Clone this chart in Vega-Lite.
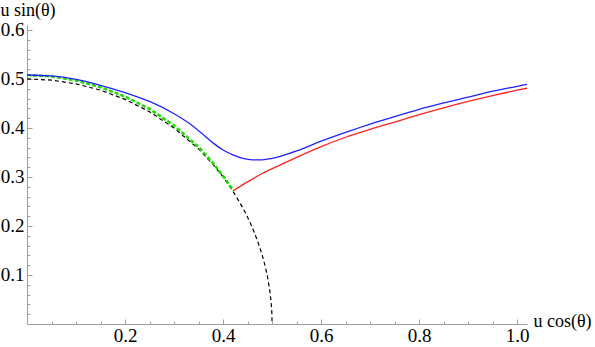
{
  "$schema": "https://vega.github.io/schema/vega-lite/v6.json",
  "width": 500,
  "height": 299,
  "autosize": {"type": "none"},
  "padding": {"left": 27, "top": 25, "right": 68, "bottom": 23},
  "background": "white",
  "config": {
    "view": {"stroke": null},
    "axis": {
      "labelFont": "Liberation Serif",
      "labelFontSize": 19,
      "labelColor": "black",
      "titleFont": "Liberation Serif",
      "titleFontSize": 18,
      "titleFontWeight": "normal",
      "titleColor": "black",
      "domainColor": "#a0a0a0",
      "tickColor": "#a0a0a0",
      "grid": false,
      "labelFlush": false,
      "labelOverlap": false
    }
  },
  "data": {
    "values": [
      {"s": "circle", "x": 0.0, "y": 0.5},
      {"s": "circle", "x": 0.05, "y": 0.4975},
      {"s": "circle", "x": 0.1, "y": 0.4899},
      {"s": "circle", "x": 0.15, "y": 0.477},
      {"s": "circle", "x": 0.2, "y": 0.4583},
      {"s": "circle", "x": 0.25, "y": 0.433},
      {"s": "circle", "x": 0.3, "y": 0.4},
      {"s": "circle", "x": 0.35, "y": 0.3571},
      {"s": "circle", "x": 0.38, "y": 0.325},
      {"s": "circle", "x": 0.4, "y": 0.3},
      {"s": "circle", "x": 0.42, "y": 0.2713},
      {"s": "circle", "x": 0.44, "y": 0.2375},
      {"s": "circle", "x": 0.45, "y": 0.2179},
      {"s": "circle", "x": 0.46, "y": 0.196},
      {"s": "circle", "x": 0.47, "y": 0.1706},
      {"s": "circle", "x": 0.48, "y": 0.14},
      {"s": "circle", "x": 0.485, "y": 0.1216},
      {"s": "circle", "x": 0.49, "y": 0.0995},
      {"s": "circle", "x": 0.495, "y": 0.0705},
      {"s": "circle", "x": 0.498, "y": 0.0447},
      {"s": "circle", "x": 0.4995, "y": 0.0224},
      {"s": "circle", "x": 0.5, "y": 0.0},
      {"s": "green", "x": 0.0, "y": 0.508},
      {"s": "green", "x": 0.05, "y": 0.505},
      {"s": "green", "x": 0.1, "y": 0.497},
      {"s": "green", "x": 0.15, "y": 0.483},
      {"s": "green", "x": 0.2, "y": 0.464},
      {"s": "green", "x": 0.25, "y": 0.439},
      {"s": "green", "x": 0.3, "y": 0.405},
      {"s": "green", "x": 0.35, "y": 0.361},
      {"s": "green", "x": 0.38, "y": 0.328},
      {"s": "green", "x": 0.4, "y": 0.302},
      {"s": "green", "x": 0.421, "y": 0.272},
      {"s": "blue", "x": 0.0, "y": 0.508},
      {"s": "blue", "x": 0.05, "y": 0.506},
      {"s": "blue", "x": 0.1, "y": 0.499},
      {"s": "blue", "x": 0.15, "y": 0.487},
      {"s": "blue", "x": 0.2, "y": 0.472},
      {"s": "blue", "x": 0.25, "y": 0.454},
      {"s": "blue", "x": 0.3, "y": 0.429},
      {"s": "blue", "x": 0.33, "y": 0.41},
      {"s": "blue", "x": 0.36, "y": 0.386},
      {"s": "blue", "x": 0.38, "y": 0.369},
      {"s": "blue", "x": 0.4, "y": 0.355},
      {"s": "blue", "x": 0.42, "y": 0.345},
      {"s": "blue", "x": 0.44, "y": 0.338},
      {"s": "blue", "x": 0.46, "y": 0.335},
      {"s": "blue", "x": 0.48, "y": 0.335},
      {"s": "blue", "x": 0.5, "y": 0.338},
      {"s": "blue", "x": 0.52, "y": 0.343},
      {"s": "blue", "x": 0.55, "y": 0.353},
      {"s": "blue", "x": 0.6, "y": 0.373},
      {"s": "blue", "x": 0.65, "y": 0.391},
      {"s": "blue", "x": 0.7, "y": 0.408},
      {"s": "blue", "x": 0.75, "y": 0.423},
      {"s": "blue", "x": 0.8, "y": 0.438},
      {"s": "blue", "x": 0.85, "y": 0.451},
      {"s": "blue", "x": 0.9, "y": 0.463},
      {"s": "blue", "x": 0.95, "y": 0.475},
      {"s": "blue", "x": 1.0, "y": 0.485},
      {"s": "blue", "x": 1.02, "y": 0.489},
      {"s": "red", "x": 0.421, "y": 0.272},
      {"s": "red", "x": 0.45, "y": 0.29},
      {"s": "red", "x": 0.48, "y": 0.307},
      {"s": "red", "x": 0.52, "y": 0.326},
      {"s": "red", "x": 0.55, "y": 0.34},
      {"s": "red", "x": 0.6, "y": 0.362},
      {"s": "red", "x": 0.65, "y": 0.381},
      {"s": "red", "x": 0.7, "y": 0.397},
      {"s": "red", "x": 0.75, "y": 0.412},
      {"s": "red", "x": 0.8, "y": 0.427},
      {"s": "red", "x": 0.85, "y": 0.441},
      {"s": "red", "x": 0.9, "y": 0.454},
      {"s": "red", "x": 0.95, "y": 0.466},
      {"s": "red", "x": 1.0, "y": 0.477},
      {"s": "red", "x": 1.02, "y": 0.481}
    ]
  },
  "resolve": {"axis": {"x": "independent", "y": "independent"}},
  "layer": [
    {
      "transform": [{"filter": "datum.s === 'circle'"}],
      "mark": {"type": "line", "color": "black", "strokeWidth": 1.2, "strokeDash": [4, 3], "clip": true},
      "encoding": {
        "x": {"field": "x", "type": "quantitative", "scale": {"domain": [0, 1.02], "nice": false, "zero": false},
          "axis": {"orient": "bottom", "values": [0.2, 0.4, 0.6, 0.8, 1.0], "format": ".1f", "tickSize": -5, "labelPadding": 22, "labelBaseline": "alphabetic",
            "title": "u cos(θ)", "titleAnchor": "start", "titleAlign": "left", "titleBaseline": "middle", "titleX": 506, "titleY": -3, "titleAngle": 0}},
        "y": {"field": "y", "type": "quantitative", "scale": {"domain": [0, 0.61], "nice": false, "zero": false},
          "axis": {"orient": "left", "values": [0.1, 0.2, 0.3, 0.4, 0.5, 0.6], "format": ".1f", "tickSize": -5, "labelPadding": 8, "labelBaseline": "middle",
            "title": "u sin(θ)", "titleAngle": 0, "titleAlign": "left", "titleBaseline": "middle", "titleX": -27, "titleY": -15}}
      }
    },
    {
      "transform": [{"filter": "datum.s === 'green'"}],
      "mark": {"type": "line", "color": "#22dd00", "strokeWidth": 2.6, "strokeDash": [4, 2], "clip": true},
      "encoding": {
        "x": {"field": "x", "type": "quantitative",
          "axis": {"orient": "bottom", "values": [0.05, 0.1, 0.15, 0.25, 0.3, 0.35, 0.45, 0.5, 0.55, 0.65, 0.7, 0.75, 0.85, 0.9, 0.95], "tickSize": -3, "labels": false, "domain": false, "title": null}},
        "y": {"field": "y", "type": "quantitative",
          "axis": {"orient": "left", "values": [0.02, 0.04, 0.06, 0.08, 0.12, 0.14, 0.16, 0.18, 0.22, 0.24, 0.26, 0.28, 0.32, 0.34, 0.36, 0.38, 0.42, 0.44, 0.46, 0.48, 0.52, 0.54, 0.56, 0.58], "tickSize": -3, "labels": false, "domain": false, "title": null}}
      }
    },
    {
      "transform": [{"filter": "datum.s === 'blue'"}],
      "mark": {"type": "line", "color": "#2222ff", "strokeWidth": 1.3, "interpolate": "monotone", "clip": true},
      "encoding": {
        "x": {"field": "x", "type": "quantitative", "axis": null},
        "y": {"field": "y", "type": "quantitative", "axis": null}
      }
    },
    {
      "transform": [{"filter": "datum.s === 'red'"}],
      "mark": {"type": "line", "color": "#ff2222", "strokeWidth": 1.3, "interpolate": "monotone", "clip": true},
      "encoding": {
        "x": {"field": "x", "type": "quantitative", "axis": null},
        "y": {"field": "y", "type": "quantitative", "axis": null}
      }
    }
  ]
}
